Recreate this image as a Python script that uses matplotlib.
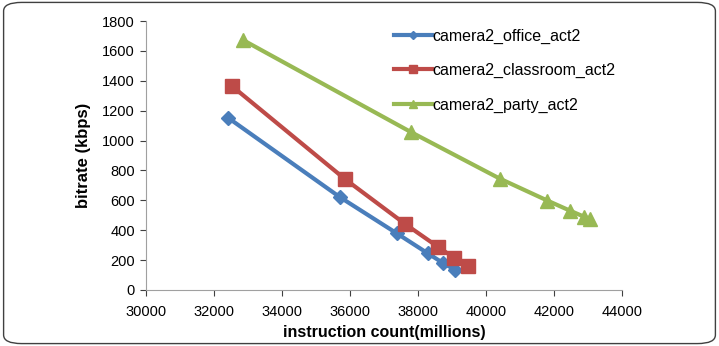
import matplotlib.pyplot as plt
from matplotlib.patches import FancyBboxPatch

# ===== data =====
office_x = [32420, 35700, 37370, 38290, 38740, 39090]
office_y = [1152, 622, 380, 245, 180, 135]

classroom_x = [32530, 35850, 37620, 38580, 39060, 39480]
classroom_y = [1365, 743, 442, 290, 216, 160]

party_x = [32840, 37810, 40410, 41810, 42470, 42890, 43060]
party_y = [1675, 1055, 745, 598, 531, 490, 475]

labels = ["camera2_office_act2", "camera2_classroom_act2", "camera2_party_act2"]
x_ticks = list(range(30000, 44001, 2000))
y_ticks = list(range(0, 1801, 200))

plt.rcParams["font.family"] = ["Liberation Sans", "DejaVu Sans"]

fig = plt.figure(figsize=(7.19, 3.46), dpi=100)
ax = fig.add_axes([0.203, 0.162, 0.662, 0.777])

# rounded outer frame
frame = FancyBboxPatch((0.005, 0.007), 0.99, 0.986, boxstyle="round,pad=0,rounding_size=0.025",
                       transform=fig.transFigure, fill=False, edgecolor="#404040", linewidth=1.0)
fig.patches.append(frame)

ax.plot(office_x, office_y, color="#4A7EBB", lw=3, marker="D", ms=7, label=labels[0])
ax.plot(classroom_x, classroom_y, color="#BE4B48", lw=3, marker="s", ms=10, label=labels[1])
ax.plot(party_x, party_y, color="#98B954", lw=3, marker="^", ms=10, label=labels[2])

ax.set_xlim(30000, 44000)
ax.set_ylim(0, 1800)
ax.set_xticks(x_ticks)
ax.set_yticks(y_ticks)
ax.tick_params(labelsize=10.5, colors="#404040", length=4, width=0.8, direction="out", pad=4)
ax.tick_params(axis="x", pad=7)
for lab in ax.get_xticklabels() + ax.get_yticklabels():
    lab.set_color("black")

ax.spines["top"].set_visible(False)
ax.spines["right"].set_visible(False)
ax.spines["left"].set_color("#A0A0A0")
ax.spines["bottom"].set_color("#A0A0A0")

ax.set_xlabel("instruction count(millions)", fontsize=11.5, fontweight="bold", labelpad=4)
ax.set_ylabel("bitrate (kbps)", fontsize=12, fontweight="bold", labelpad=8)

# legend: small markers on the handles like the original
leg = ax.legend(loc="upper left", bbox_to_anchor=(0.49, 1.025), frameon=False, fontsize=11.5,
                handlelength=2.4, handletextpad=0.05, labelspacing=1.2, markerscale=0.6)

fig.savefig("out.png", dpi=100)
